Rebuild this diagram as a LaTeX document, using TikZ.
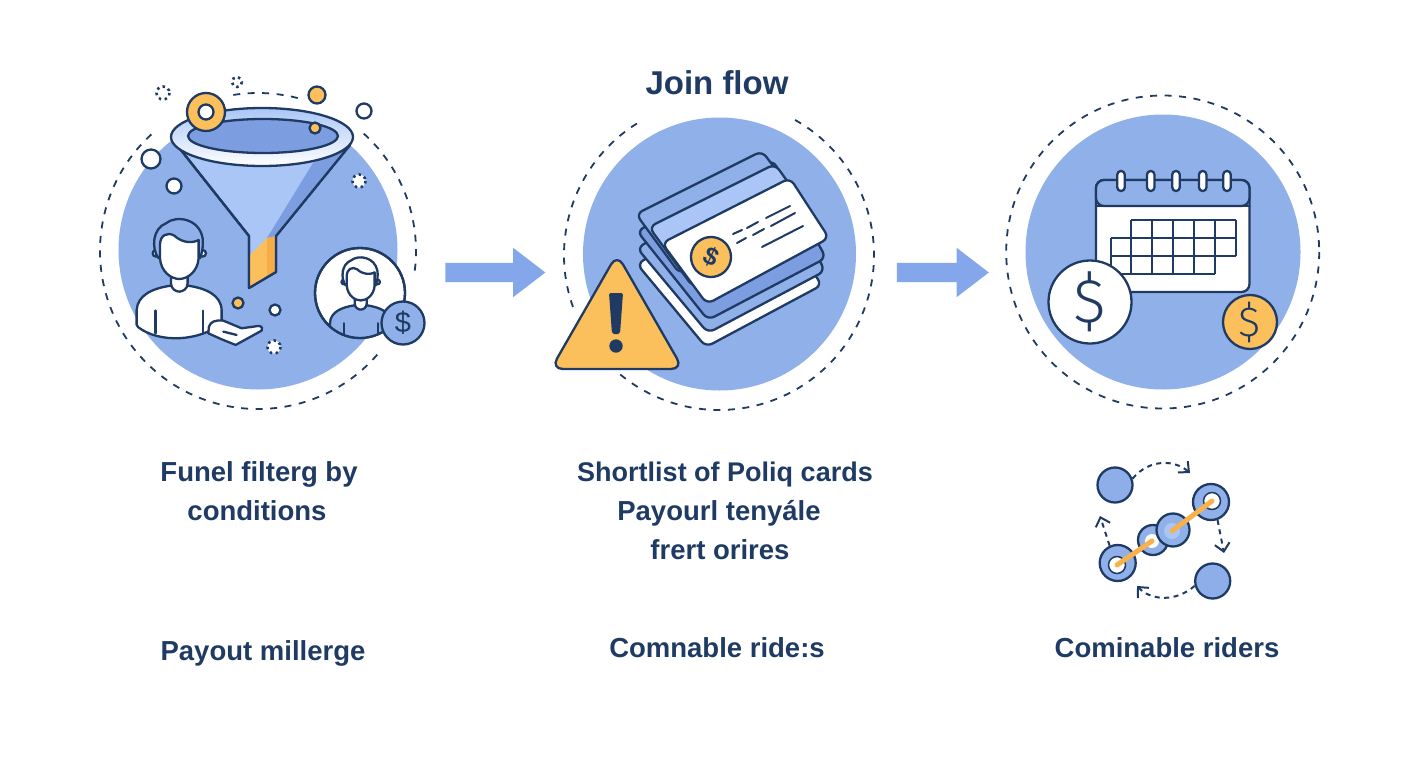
\documentclass[tikz,border=0pt]{standalone}
\usepackage{fontspec}
\setmainfont{Liberation Sans}
\newfontfamily\pThinFont[UprightFont=* Light]{Fira Sans}
\usetikzlibrary{arrows.meta,shapes.arrows}
\definecolor{pNavy}{HTML}{1F3A63}
\definecolor{pDisc}{HTML}{8FB0E9}
\definecolor{pLight}{HTML}{A9C6F6}
\definecolor{pMid}{HTML}{7C9EE0}
\definecolor{pArrow}{HTML}{83A7EA}
\definecolor{pOrange}{HTML}{FBC05C}
\definecolor{pAmber}{HTML}{F6AC47}
\tikzset{
  disc/.style={circle, fill=pDisc, inner sep=0pt, minimum size=#1},
  ringline/.style={pNavy, line width=1.8pt, dash pattern=on 7pt off 7.5pt},
  icon/.style={pNavy, line width=2.3pt, line join=round, line cap=round},
  coin/.style={circle, draw=pNavy, line width=2.3pt, inner sep=0pt, text=pNavy},
  flowarrow/.style={single arrow, inner xsep=0pt, inner ysep=9.5pt, single arrow head extend=15pt, single arrow tip angle=75, fill=pArrow, minimum height=#1},
  caption/.style={anchor=base, inner sep=0pt, text=pNavy, font=\bfseries\fontsize{27.5}{30}\selectfont},
  chaindot/.style={circle, draw=pNavy, fill=pDisc!90!pMid, line width=2.3pt, inner sep=0pt, minimum size=35pt},
  chainring/.style={circle, draw=pNavy, fill=pDisc, line width=2.3pt, inner sep=0pt, minimum size=#1},
  chainhole/.style={circle, draw=pNavy, fill=white, line width=1.5pt, inner sep=0pt, minimum size=#1},
  chainarrow/.style={pNavy, line width=2pt, dash pattern=on 5pt off 4.5pt, -{Straight Barb[length=8pt,width=15pt,line width=2pt]}},
}
\newcommand{\pArc}[5]{\draw[ringline] (#1,#2) ++(-#4:#3) arc[start angle=-#4, end angle=-#5, radius=#3];}
\newcommand{\pSpark}[4]{\draw[pNavy, fill=#4, line width=2.6pt, dash pattern=on 2.5pt off 3.5pt] (#1,#2) circle (#3);}
\newcommand{\pDot}[4]{\draw[icon, fill=#4] (#1,#2) circle (#3);}
\newcommand{\pCard}[5]{\draw[icon, fill=#5, rounded corners=7pt] #1 -- #2 -- #3 -- #4 -- cycle;}
\newcommand{\pBust}[2]{
\draw[icon, fill=#1] (-123,147) -- (-128,140) -- (-128,95) .. controls (-125,50) and (-80,30) .. (-25,22) -- (25,22) .. controls (80,30) and (125,50) .. (127,95) -- (127,135) .. controls (60,190) and (-60,195) .. (-123,147);
\draw[icon] (-71,97) -- (-71,165) (72,97) -- (72,165);
\draw[icon, fill=white] (-25,-10) -- (-25,15) .. controls (-25,32) and (-10,40) .. (0,40) .. controls (10,40) and (25,32) .. (25,15) -- (25,-10);
\draw[icon, fill=white] (-70,-75) circle (10) (70,-75) circle (10);
\draw[icon, fill=#2] (-62,-60) .. controls (-85,-90) and (-80,-150) .. (-40,-165) .. controls (-10,-190) and (60,-180) .. (70,-120) .. controls (72,-100) and (70,-80) .. (62,-60);
\draw[icon, fill=white] (-58,-100) -- (-58,-60) .. controls (-55,-20) and (-25,2) .. (0,2) .. controls (25,2) and (55,-20) .. (58,-60) -- (58,-115) .. controls (40,-105) and (10,-105) .. (-15,-128) .. controls (-35,-140) and (-58,-130) .. (-58,-100);
}

\begin{document}
\begin{tikzpicture}[x=1pt,y=-1pt]
\useasboundingbox (0,0) rectangle (1408,768);
% first step
\node[disc=279pt] (discFunnel) at (258,250) {};
\pArc{258}{251}{158}{99}{74.5}
\pArc{258}{251}{158}{48}{-9}
\pArc{258}{251}{158}{-41}{-230}
\draw[icon, fill=pLight] (173,140) -- (249,236) -- (249,288) -- (276,272) -- (276,236) -- (350,145) -- cycle;
\fill[pMid] (313,163) -- (348,148) -- (276,236) -- (267,238) -- cycle;
\fill[pOrange] (250,255) -- (267,238) -- (267,278) -- (250,288) -- cycle;
\fill[pAmber] (267,238) -- (276,236) -- (276,272) -- (267,278) -- cycle;
\draw[icon] (173,140) -- (249,236) -- (249,288) -- (276,272) -- (276,236) -- (350,145);
\draw[icon, top color=pLight, bottom color=white] (262,137) ellipse (91 and 29);
\draw[icon, fill=pMid] (263,136) ellipse (75 and 17);
\pDot{206}{112}{19}{pOrange}
\pDot{206}{112}{7.5}{white}
\pDot{315}{128}{5.5}{pOrange}
\pDot{317}{95}{8.5}{pOrange}
\pDot{364}{111}{7.5}{white}
\pDot{151}{159}{9.5}{white}
\pDot{174}{186}{7.5}{white}
\pDot{238}{303}{5.5}{pOrange}
\pDot{275}{310}{5.5}{white}
\pSpark{163}{93}{6.5}{white}
\pSpark{237}{82}{5}{white}
\pSpark{359}{181}{6.5}{white}
\pSpark{274}{347}{6.5}{white}
\begin{scope}[shift={(179.3,278.3)},scale=0.3333]
\pBust{white}{pDisc}
\draw[icon, fill=white] (87,165) -- (89,145) .. controls (95,130) and (105,125) .. (132,127) -- (187,150) -- (237,143) .. controls (250,143) and (250,152) .. (247,157) -- (169,200) -- (127,183) -- cycle;
\draw[icon] (132,160) -- (172,170);
\end{scope}
\node[coin, fill=white, minimum size=90pt] (coinPerson) at (360,293) {};
\begin{scope}
\clip (360,293) circle (44);
\begin{scope}[shift={(360.7,300)},scale=0.24]
\pBust{pDisc}{white}
\end{scope}
\end{scope}
\draw[icon] (360,293) circle (45);
\node[coin, fill=pDisc, minimum size=43pt, font=\fontsize{29}{30}\selectfont] (coinFee) at (403,323) {\$};
% second step
\node[disc=273pt] (discCards) at (719.5,254) {};
\pArc{719}{255}{155}{60.6}{-132}
\pArc{719}{255}{155}{199.6}{119.4}
\pCard{(637,264)}{(757,193)}{(822,285)}{(706,347)}{white}
\pCard{(637,248)}{(773,170)}{(825,271)}{(708,333)}{pDisc}
\pCard{(637,231)}{(773,160)}{(826,258)}{(708,320)}{pMid}
\pCard{(636,214)}{(762,151)}{(802,205)}{(680,274)}{pDisc}
\pCard{(649,227)}{(775,164)}{(815,220)}{(693,287)}{pLight}
\pCard{(662,243)}{(790,178)}{(829,238)}{(707,304)}{white}
\node[coin, fill=pOrange, minimum size=40pt, rotate=-25, font=\bfseries\fontsize{25}{27}\selectfont] (coinCard) at (711,257) {\$};
\draw[icon, line width=2pt] (733,234) -- (742,230) (747,228) -- (758,222) (766,218) -- (790,206) (737,243) -- (746,238) (753,235) -- (764,229) (771,226) -- (795,213) (762,247) -- (803,226);
\draw[icon, fill=pOrange, rounded corners=12pt] (617,254) -- (683,369) -- (551,369) -- cycle;
\fill[pNavy, rounded corners=2pt] (609,293) -- (623,293) -- (620,334) -- (612,334) -- cycle;
\fill[pNavy] (616,346) circle (6.7);
% third step
\node[disc=275pt] (discCalendar) at (1163,252) {};
\draw[ringline] (1162.7,252) circle (156.5);
\draw[icon, fill=white, rounded corners=8pt] (1096,180) rectangle (1249.5,292);
\draw[icon, fill=pDisc, rounded corners=8pt] (1096,206) -- (1096,180) -- (1249.5,180) -- (1249.5,206) -- cycle;
\draw[icon] (1096,206) -- (1249.5,206);
\foreach \ringx in {1121,1150.7,1176,1202.7,1227}
  \draw[icon, fill=white, rounded corners=3.5pt] (\ringx-3.7,171) rectangle (\ringx+3.7,191);
\foreach \gridx in {1131.3,1152.3,1173,1194,1215,1235.7}
  \draw[icon, line cap=butt] (\gridx,220) -- (\gridx,255.7);
\foreach \gridx in {1110.7,1131.3,1152.3,1173,1194,1215}
  \draw[icon, line cap=butt] (\gridx,237.7) -- (\gridx,273.7);
\draw[icon, line cap=butt] (1131.3,220) -- (1235.7,220) (1110.7,237.7) -- (1235.7,237.7) (1110.7,255.7) -- (1235.7,255.7) (1110.7,273.7) -- (1215,273.7);
\node[coin, fill=white, minimum size=83pt, font=\pThinFont\fontsize{62}{62}\selectfont] (coinWhite) at (1090,302) {\$};
\node[coin, fill=pOrange, minimum size=54pt, font=\pThinFont\fontsize{42}{42}\selectfont] (coinGold) at (1250,322) {\$};
% flow arrows
\node[flowarrow=100pt] (arrowOne) at (489,272.5) {};
\node[flowarrow=92pt] (arrowTwo) at (936.5,272.5) {};
% captions
\node[caption, font=\bfseries\fontsize{33}{36}\selectfont] (titleFlow) at (717,95) {Join flow};
\node[caption] (capFunnelA) at (259,481) {Funel filterg by};
\node[caption] (capFunnelB) at (257,520) {conditions};
\node[caption] (capPayout) at (263,660) {Payout millerge};
\node[caption, font=\bfseries\fontsize{27}{30}\selectfont] (capCardsA) at (725,481) {Shortlist of Poliq cards};
\node[caption] (capCardsB) at (719,520) {Payourl tenyále};
\node[caption] (capCardsC) at (720,559) {frert orires};
\node[caption] (capRidesA) at (717,657) {Comnable ride:s};
\node[caption] (capRidesB) at (1167,657) {Cominable riders};
% rider chain
\node[chaindot] (dotTop) at (1115,485) {};
\node[chaindot] (dotLow) at (1212.7,581) {};
\node[chainring=30pt] (linkLeft) at (1153,540) {};
\node[circle, fill=white, inner sep=0pt, minimum size=14pt] (holeLeft) at (1152,541) {};
\node[chainring=36pt] (linkA) at (1117.7,563) {};
\node[chainhole=17pt] (holeA) at (1117,565) {};
\node[chainring=36pt] (linkB) at (1211,502) {};
\node[chainhole=17pt] (holeB) at (1212,501) {};
\node[chainring=33pt] (linkRight) at (1173,530) {};
\node[circle, fill=pLight, inner sep=0pt, minimum size=16pt] (holeRight) at (1172,531) {};
\draw[pAmber!70!pOrange, line width=5pt, line cap=round] (holeA.center) -- (holeLeft.center);
\draw[pAmber!70!pOrange, line width=5pt, line cap=round] (holeRight.center) -- (holeB.center);
\draw[chainarrow] (dotTop.20) .. controls (1150,458) and (1175,460) .. (1190,473);
\coordinate (arrowEndR) at (1224,553);
\draw[chainarrow] (linkB.-70) -- (arrowEndR);
\draw[chainarrow] (dotLow.195) .. controls (1175,603) and (1150,600) .. (1137,586);
\coordinate (arrowEndL) at (1100,516);
\draw[chainarrow] (linkA.115) -- (arrowEndL);
\end{tikzpicture}
\end{document}
